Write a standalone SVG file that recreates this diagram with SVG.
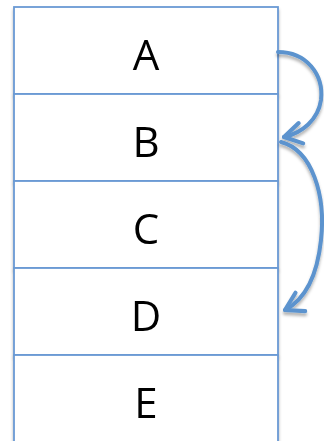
<svg xmlns="http://www.w3.org/2000/svg" width="324" height="441" viewBox="0 0 324 441">
<style>
.box{fill:#fff;stroke:#6a9ad4;stroke-width:1.8}
.lbl{font-family:"Open Sans","Liberation Sans",sans-serif;font-size:42px;fill:#000;text-anchor:middle}
.arr{fill:none;stroke:#5b93ce;stroke-width:4;stroke-linecap:round}
</style>
<defs>
<filter id="sh" x="-10%" y="-10%" width="120%" height="130%">
<feDropShadow dx="0" dy="3" stdDeviation="1.8" flood-color="#000" flood-opacity="0.3"/>
</filter>
<marker id="ah" viewBox="0 0 12 12" refX="10" refY="6" markerWidth="6.5" markerHeight="6.5" orient="auto" markerUnits="strokeWidth">
<path d="M2,1.2 L10,6 L2,10.8" fill="none" stroke="#5b93ce" stroke-width="1.9" stroke-linecap="round" stroke-linejoin="round"/>
</marker>
</defs>
<g id="A" filter="url(#sh)"><rect class="box" x="14" y="7" width="264" height="87"/><text class="lbl" x="146" y="70">A</text></g>
<g id="B" filter="url(#sh)"><rect class="box" x="14" y="94" width="264" height="87"/><text class="lbl" x="146" y="157">B</text></g>
<g id="C" filter="url(#sh)"><rect class="box" x="14" y="181" width="264" height="87"/><text class="lbl" x="146" y="244">C</text></g>
<g id="D" filter="url(#sh)"><rect class="box" x="14" y="268" width="264" height="87"/><text class="lbl" x="146" y="331">D</text></g>
<g id="E" filter="url(#sh)"><rect class="box" x="14" y="355" width="264" height="90"/><text class="lbl" x="146" y="418">E</text></g>
<g id="connectors" filter="url(#sh)">
<path class="arr" d="M278,52 C306,52 324,74 321,100 C318,120 302,133 284,137" marker-end="url(#ah)"/>
<path class="arr" d="M281,142 C312,150 326,195 321,240 C317,278 304,300 285,310" marker-end="url(#ah)"/>
</g>
</svg>
